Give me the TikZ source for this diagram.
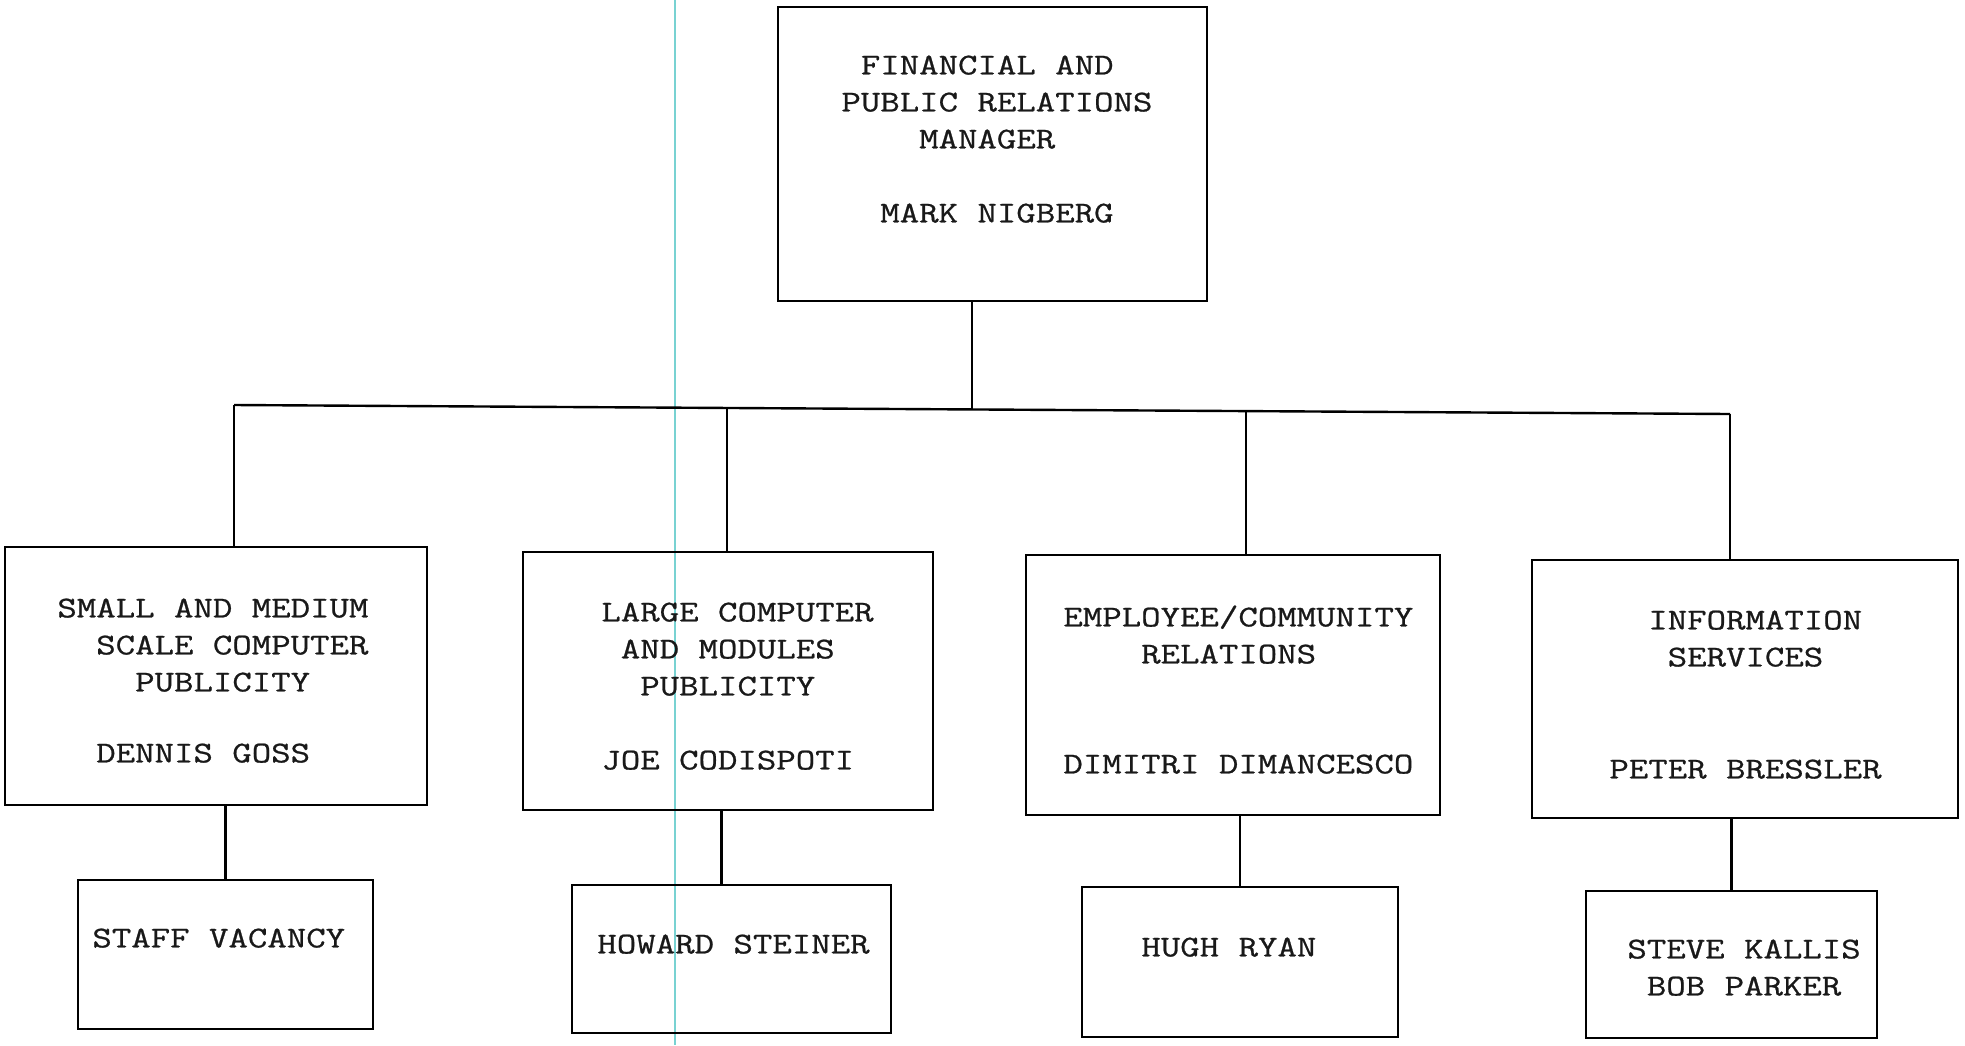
\documentclass[tikz,border=0pt]{standalone}
\usepackage{fontspec}
\setmonofont{Latin Modern Mono}[FakeStretch=1.25, FakeBold=0.8]
\usetikzlibrary{fit}
\definecolor{scanline}{RGB}{120,210,210}
\newlength\charw
\newcommand\pad[1]{\settowidth\charw{M}\hspace*{#1\charw}}
\tikzset{
  orgbox/.style={draw, line width=1.2pt, inner sep=0pt},
  orgtext/.style={anchor=north west, inner sep=0pt, align=left, text=black!90,
    font=\ttfamily\fontsize{15.1pt}{18.5pt}\selectfont},
  wire/.style={line width=1.2pt}
}
\begin{document}
\begin{tikzpicture}[x=0.5pt, y=-0.5pt]
  \useasboundingbox (0,0) rectangle (1965,1045);
  \draw[scanline, line width=0.8pt] (675,0) -- (675,1045);
  % boxes
  \node[orgbox, fit={(778,7) (1207,301)}] (mgr) {};
  \node[orgbox, fit={(5,547) (427,805)}] (smallmed) {};
  \node[orgbox, fit={(523,552) (933,810)}] (largecomp) {};
  \node[orgbox, fit={(1026,555) (1440,815)}] (employee) {};
  \node[orgbox, fit={(1532,560) (1958,818)}] (infoserv) {};
  \node[orgbox, fit={(78,880) (373,1029)}] (staff) {};
  \node[orgbox, fit={(572,885) (891,1033)}] (howard) {};
  \node[orgbox, fit={(1082,887) (1398,1037)}] (hugh) {};
  \node[orgbox, fit={(1586,891) (1877,1038)}] (steve) {};
  % texts
  \node[orgtext] (mgrtxt) at (841,50) {\rule{0pt}{12pt}\pad{1}FINANCIAL AND\\PUBLIC RELATIONS\\\pad{4}MANAGER\\[18.5pt]\pad{2}MARK NIGBERG};
  \node[orgtext] (smallmedtxt) at (57,593) {\rule{0pt}{12pt}SMALL AND MEDIUM\\\pad{2}SCALE COMPUTER\\\pad{4}PUBLICITY\\[17pt]\pad{2}DENNIS GOSS};
  \node[orgtext] (largecomptxt) at (601,597) {\rule{0pt}{12pt}LARGE COMPUTER\\\pad{1}AND MODULES\\\pad{2}PUBLICITY\\[18.5pt]JOE CODISPOTI};
  \node[orgtext] (employeetxt) at (1063,602) {\rule{0pt}{12pt}EMPLOYEE/COMMUNITY\\\pad{4}RELATIONS\\[36.5pt]DIMITRI DIMANCESCO};
  \node[orgtext] (infoservtxt) at (1609,605) {\rule{0pt}{12pt}\pad{2}INFORMATION\\\pad{3}SERVICES\\[37.5pt]PETER BRESSLER};
  \node[orgtext] (stafftxt) at (92,923) {\rule{0pt}{12pt}STAFF VACANCY};
  \node[orgtext] (howardtxt) at (597,929) {\rule{0pt}{12pt}HOWARD STEINER};
  \node[orgtext] (hughtxt) at (1141,932) {\rule{0pt}{12pt}HUGH RYAN};
  \node[orgtext] (stevetxt) at (1627,934) {\rule{0pt}{12pt}STEVE KALLIS\\\pad{1}BOB PARKER};
  % bus line
  \coordinate (b1) at (234,405);
  \coordinate (b2) at (727,408);
  \coordinate (b0) at (972,409);
  \coordinate (b3) at (1246,411);
  \coordinate (b4) at (1730,414);
  \draw[wire] (b1) -- (b4);
  \draw[wire] (mgr.south -| b0) -- (b0);
  \draw[wire] (b1) -- (b1 |- smallmed.north);
  \draw[wire] (b2) -- (b2 |- largecomp.north);
  \draw[wire] (b3) -- (b3 |- employee.north);
  \draw[wire] (b4) -- (b4 |- infoserv.north);
  % second level
  \draw[wire] (smallmed.south -| staff.north) -- (staff.north);
  \draw[wire] ([xshift=-5pt]howard.north |- largecomp.south) -- ([xshift=-5pt]howard.north);
  \draw[wire] (employee.south -| hugh.north) -- (hugh.north);
  \draw[wire] (infoserv.south -| steve.north) -- (steve.north);
\end{tikzpicture}
\end{document}
